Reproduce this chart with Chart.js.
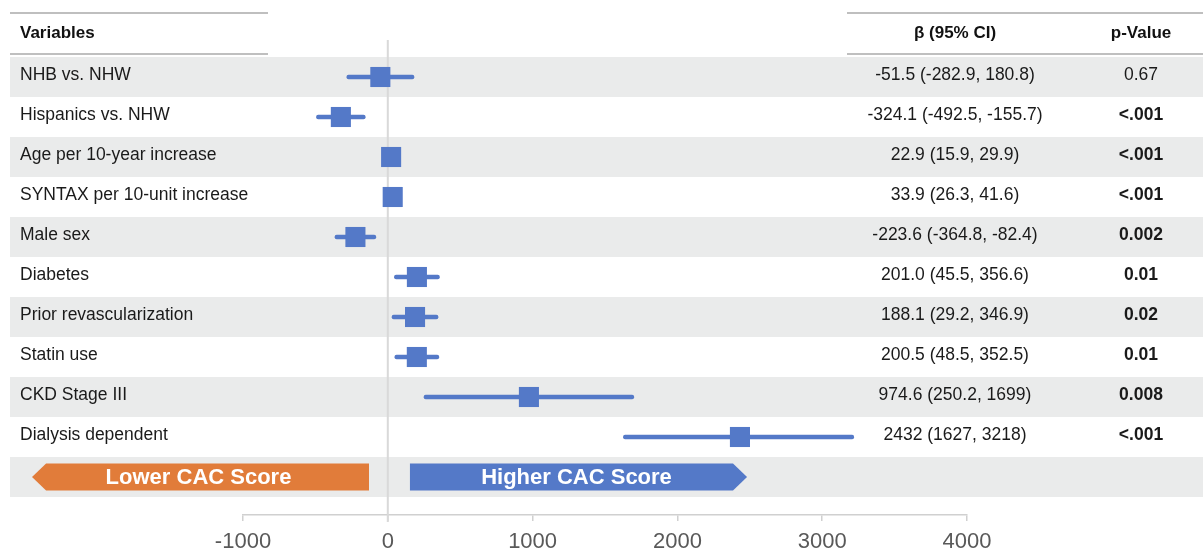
<!DOCTYPE html>
<html>
<head>
<meta charset="utf-8">
<script src="https://cdn.jsdelivr.net/npm/chart.js@4.4.1/dist/chart.umd.min.js"></script>
<style>
  html, body { margin: 0; padding: 0; background: #fff; }
  canvas { display: block; }
</style>
</head>
<body>
<canvas id="forest" width="1203" height="550"></canvas>
<script>
// values (beta with 95% CI)
const variables = ['NHB vs. NHW', 'Hispanics vs. NHW', 'Age per 10-year increase', 'SYNTAX per 10-unit increase',
    'Male sex', 'Diabetes', 'Prior revascularization', 'Statin use', 'CKD Stage III', 'Dialysis dependent'];
const beta = [-51.5, -324.1, 22.9, 33.9, -223.6, 201.0, 188.1, 200.5, 974.6, 2432];
const ciLow = [-282.9, -492.5, 15.9, 26.3, -364.8, 45.5, 29.2, 48.5, 250.2, 1627];
const ciHigh = [180.8, -155.7, 29.9, 41.6, -82.4, 356.6, 346.9, 352.5, 1699, 3218];
const betaLabels = ['-51.5 (-282.9, 180.8)', '-324.1 (-492.5, -155.7)', '22.9 (15.9, 29.9)', '33.9 (26.3, 41.6)',
    '-223.6 (-364.8, -82.4)', '201.0 (45.5, 356.6)', '188.1 (29.2, 346.9)', '200.5 (48.5, 352.5)',
    '974.6 (250.2, 1699)', '2432 (1627, 3218)'];
const pValues = ['0.67', '<.001', '<.001', '<.001', '0.002', '0.01', '0.02', '0.01', '0.008', '<.001'];
const xTicks = [-1000, 0, 1000, 2000, 3000, 4000];

const FONT = '"Liberation Sans", Arial, sans-serif';
const BLUE = '#5479c8';
const ORANGE = '#e17c3a';
const BAND = '#eaebeb';
const RULE = '#ababab';
const arrowRow = variables.length;

// direction arrows under the plot, in x-axis units
const lowerArrow = { text: 'Lower CAC Score', tail: -130, tip: -2457, head: 97, color: ORANGE };
const higherArrow = { text: 'Higher CAC Score', tail: 153, tip: 2481, head: 97, color: BLUE };

function isSignificant(p) {
    return p.startsWith('<') || parseFloat(p) < 0.05;
}

function drawArrow(ctx, xs, yc, a) {
    const tail = xs.getPixelForValue(a.tail);
    const tip = xs.getPixelForValue(a.tip);
    const neck = xs.getPixelForValue(a.tip + (a.tail < a.tip ? -a.head : a.head));
    const h = 13.5;
    ctx.fillStyle = a.color;
    ctx.beginPath();
    ctx.moveTo(tail, yc - h);
    ctx.lineTo(neck, yc - h);
    ctx.lineTo(tip, yc);
    ctx.lineTo(neck, yc + h);
    ctx.lineTo(tail, yc + h);
    ctx.closePath();
    ctx.fill();
    ctx.fillStyle = '#fff';
    ctx.font = 'bold 22px ' + FONT;
    ctx.textAlign = 'center';
    ctx.textBaseline = 'middle';
    ctx.fillText(a.text, (tail + tip) / 2 - 2, yc + 1);
}

const tablePlugin = {
    id: 'forestTable',
    beforeDraw(chart) {
        const { ctx, width, scales: { y } } = chart;
        ctx.save();
        ctx.fillStyle = BAND;
        for (let i = 0; i <= arrowRow; i += 2) {
            const top = y.getPixelForValue(i - 0.5);
            const bottom = y.getPixelForValue(i + 0.5);
            ctx.fillRect(10, top, width - 10, bottom - top);
        }
        const headBottom = y.getPixelForValue(-0.5) - 3;
        const headTop = headBottom - 41;
        ctx.strokeStyle = RULE;
        ctx.lineWidth = 1.5;
        ctx.beginPath();
        [headTop, headBottom].forEach(py => {
            ctx.moveTo(10, py); ctx.lineTo(268, py);
            ctx.moveTo(847, py); ctx.lineTo(width, py);
        });
        ctx.stroke();
        ctx.restore();
    },
    beforeDatasetsDraw(chart) {
        const { ctx, chartArea, scales: { x, y } } = chart;
        ctx.save();
        const x0 = x.getPixelForValue(0);
        ctx.strokeStyle = '#d9d9d9';
        ctx.lineWidth = 2;
        ctx.beginPath();
        ctx.moveTo(x0, y.getPixelForValue(-0.5) - 17);
        ctx.lineTo(x0, chartArea.bottom + 7);
        ctx.stroke();
        const yc = y.getPixelForValue(arrowRow);
        drawArrow(ctx, x, yc, lowerArrow);
        drawArrow(ctx, x, yc, higherArrow);
        ctx.restore();
    },
    afterDraw(chart) {
        const { ctx, scales: { y } } = chart;
        const headY = y.getPixelForValue(-0.5) - 3 - 20.5;
        ctx.save();
        ctx.textBaseline = 'middle';
        ctx.fillStyle = '#111';
        ctx.font = 'bold 17px ' + FONT;
        ctx.textAlign = 'left';
        ctx.fillText('Variables', 20, headY);
        ctx.textAlign = 'center';
        ctx.fillText('β (95% CI)', 955, headY);
        ctx.fillText('p-Value', 1141, headY);
        variables.forEach((name, i) => {
            const py = y.getPixelForValue(i) - 2;
            ctx.fillStyle = '#1a1a1a';
            ctx.font = '17.5px ' + FONT;
            ctx.textAlign = 'left';
            ctx.fillText(name, 20, py);
            ctx.textAlign = 'center';
            ctx.fillText(betaLabels[i], 955, py);
            ctx.font = (isSignificant(pValues[i]) ? 'bold ' : '') + '17.5px ' + FONT;
            ctx.fillText(pValues[i], 1141, py);
        });
        ctx.restore();
    }
};

new Chart(document.getElementById('forest'), {
    data: {
        datasets: [
            {
                type: 'scatter',
                data: beta.map((b, i) => ({ x: b, y: i })),
                pointStyle: 'rect',
                pointRadius: 14.2,
                pointHoverRadius: 14.2,
                backgroundColor: BLUE,
                borderWidth: 0,
                order: 0
            },
            {
                type: 'bar',
                indexAxis: 'y',
                data: ciLow.map((lo, i) => ({ x: [lo, ciHigh[i]], y: i })),
                backgroundColor: BLUE,
                barThickness: 4,
                borderRadius: 2,
                borderSkipped: false,
                order: 1
            }
        ]
    },
    options: {
        responsive: false,
        animation: false,
        devicePixelRatio: 1,
        layout: { padding: { left: 243, right: 236, top: 57, bottom: 0 } },
        plugins: { legend: { display: false }, tooltip: { enabled: false } },
        scales: {
            x: {
                type: 'linear',
                min: -1000,
                max: 4000,
                offset: false,
                afterBuildTicks: s => { s.ticks = xTicks.map(v => ({ value: v })); },
                afterFit: s => { s.height = 35; },
                border: { color: '#d0d0d0', width: 1.5 },
                grid: { drawOnChartArea: false, tickLength: 6, color: '#d0d0d0', lineWidth: 1.5, offset: false },
                ticks: { padding: 8, color: '#595959', font: { family: FONT, size: 22 }, callback: v => String(v) }
            },
            y: {
                type: 'linear',
                reverse: true,
                offset: false,
                min: -0.5,
                max: arrowRow + 0.95,
                grid: { offset: false },
                display: false
            }
        }
    },
    plugins: [tablePlugin]
});
</script>
</body>
</html>
